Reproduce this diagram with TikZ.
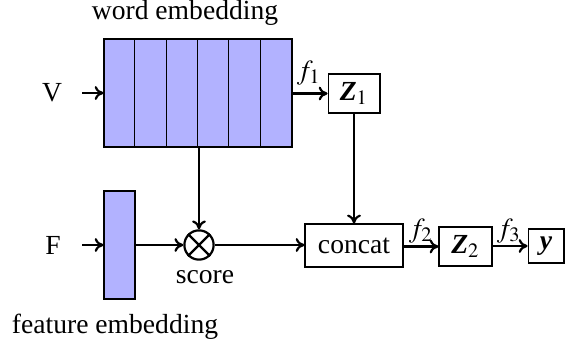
\documentclass[tikz,border=0pt]{standalone}
\usepackage{mathptmx}
\usepackage[no-math]{fontspec}
\setmainfont{Liberation Serif}
\usetikzlibrary{arrows.meta,calc}
\begin{document}
\begin{tikzpicture}[x=0.3623pt,y=-0.3623pt,
  emb/.style={draw=black, line width=0.4pt, fill=blue!30, inner sep=0pt},
  plainbox/.style={draw=black, line width=0.4pt, fill=white, inner sep=0pt},
  conn/.style={-{To[length=3.2pt,width=5pt]}, line width=0.8pt},
  lbl/.style={inner sep=0pt}]
\useasboundingbox (0,0) rectangle (571,347);
% word embedding
\node[emb, minimum width=68.1pt, minimum height=39.1pt] (we) at (198,93) {};
\foreach \k in {1,...,5} {
  \draw[line width=0.4pt] ($(we.north west)+(\k*31.33,0)$) -- ($(we.south west)+(\k*31.33,0)$);
}
\node[lbl] (wetext) at (185,13) {word embedding};
% feature embedding
\node[emb, minimum width=11.2pt, minimum height=39.1pt] (fe) at (119.5,245) {};
\node[lbl] (fetext) at (115,327) {feature embedding};
% inputs
\node[lbl] (V) at (52,93) {V};
\node[lbl] (F) at (53,245) {F};
\coordinate (vs) at (82,93);
\coordinate (fs) at (82,245);
\draw[conn] (vs) -- (we.west |- vs);
\draw[conn] (fs) -- (fe.west |- fs);
% score
\node[circle, draw, line width=0.8pt, minimum size=10.6pt, inner sep=0pt] (sc) at (199,245) {};
\draw[line width=0.8pt] (sc.north west) -- (sc.south east);
\draw[line width=0.8pt] (sc.north east) -- (sc.south west);
\node[lbl] (sctext) at (205,277) {score};
% boxes
\node[plainbox, minimum width=18.8pt, minimum height=14.1pt] (z1) at (354,93.5) {\textbf{\textit{Z}}$_1$};
\node[plainbox, minimum width=35.5pt, minimum height=15.6pt] (cc) at (354,245.5) {concat};
\node[plainbox, minimum width=19.2pt, minimum height=14.1pt] (z2) at (465.5,246.5) {\textbf{\textit{Z}}$_2$};
\node[plainbox, minimum width=13pt, minimum height=12.3pt] (yy) at (546,246) {\textbf{\textit{y}}};
% connectors
\draw[conn] (we.east |- z1) -- (z1.west);
\draw[conn] (we.south -| sc) -- (sc.north);
\draw[conn] (fe.east |- sc) -- (sc.west);
\draw[conn] (sc.east) -- (cc.west |- sc);
\draw[conn] (z1.south) -- (cc.north);
\draw[conn] (cc.east |- z2) -- (z2.west);
\draw[conn] (z2.east |- yy) -- (yy.west);
% function labels
\node[lbl] (f1) at (309,73) {$f_1$};
\node[lbl] (f2) at (421,231) {$f_2$};
\node[lbl] (f3) at (509,231) {$f_3$};
\end{tikzpicture}
\end{document}
